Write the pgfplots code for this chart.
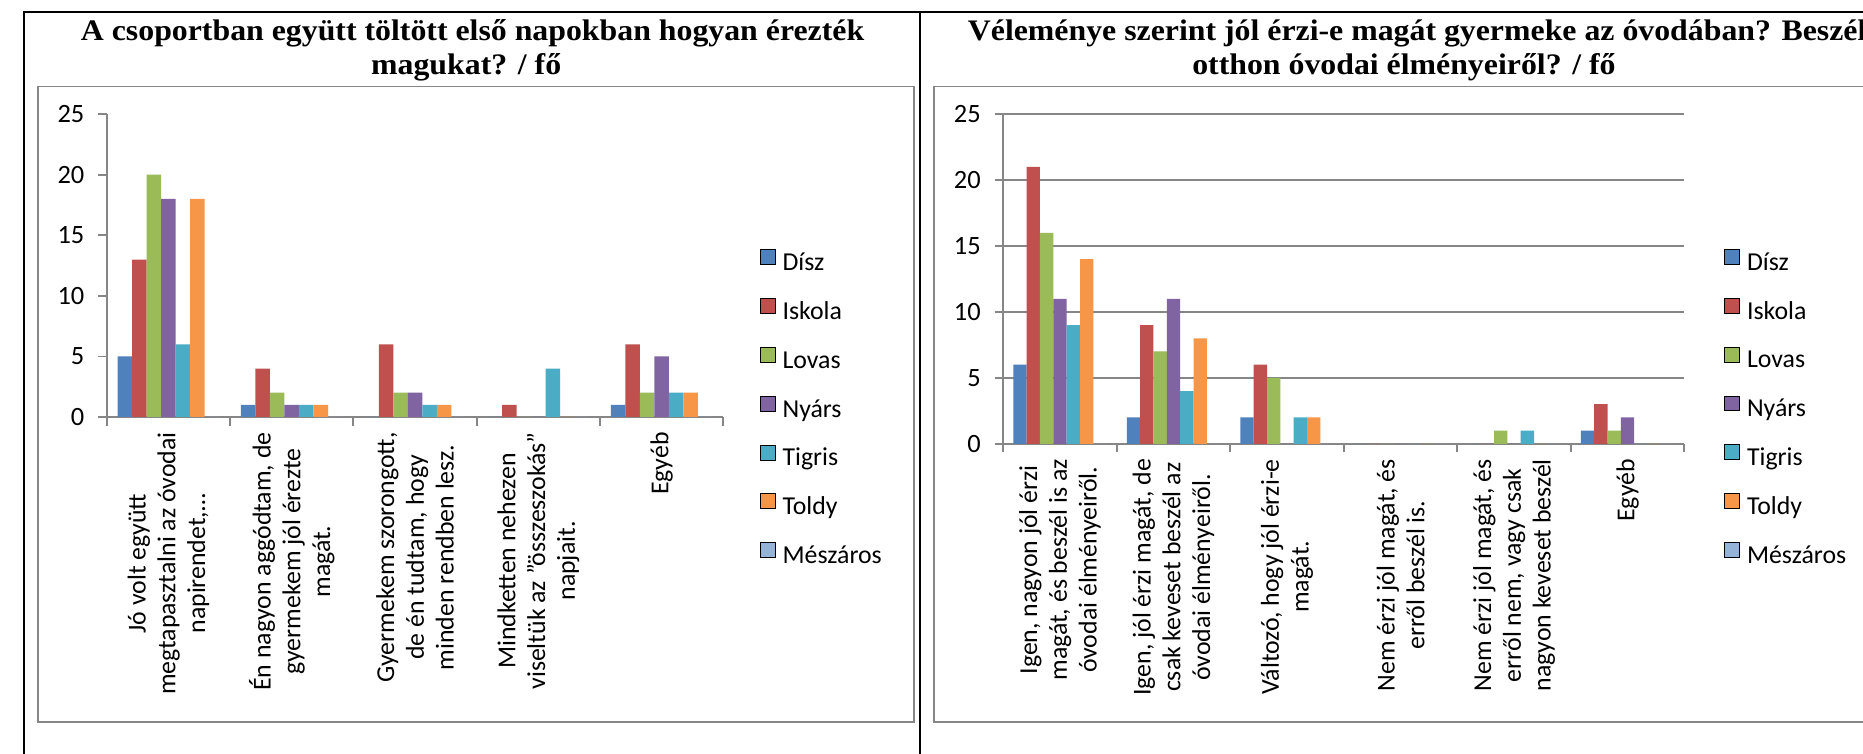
\documentclass[border=0pt]{standalone}
\usepackage{pgfplots}
\usepackage{pgfplotstable}
\pgfplotsset{compat=1.18}
\usepackage{graphicx}
\usepackage{fontspec}
\setmainfont{Carlito}
\newfontfamily\titlefont{Liberation Serif}

\definecolor{cDisz}{HTML}{4F81BD}
\definecolor{cIskola}{HTML}{C0504D}
\definecolor{cLovas}{HTML}{9BBB59}
\definecolor{cNyars}{HTML}{8064A2}
\definecolor{cTigris}{HTML}{4BACC6}
\definecolor{cToldy}{HTML}{F79646}
\definecolor{cMesz}{HTML}{95B3D7}
\definecolor{axgray}{HTML}{868686}

\pgfplotstableread{
x Disz Iskola Lovas Nyars Tigris Toldy Meszaros
1 5 13 20 18 6 18 0
2 1 4 2 1 1 1 0
3 0 6 2 2 1 1 0
4 0 1 0 0 4 0 0
5 1 6 2 5 2 2 0
}\leftdata

\pgfplotstableread{
x Disz Iskola Lovas Nyars Tigris Toldy Meszaros
1 6 21 16 11 9 14 0
2 2 9 7 11 4 8 0
3 2 6 5 0 2 2 0
4 0 0 0 0 0 0 0
5 0 0 1 0 1 0 0
6 1 3 1 2 0 0 0
}\rightdata

\pgfplotsset{
  chart/.style={
    ybar, scale only axis, bar width=0.117647,
    ymin=0, ymax=25, ytick={0,5,10,15,20,25},
    axis x line*=bottom, axis y line*=left,
    axis line style={draw=axgray, line width=0.9pt},
    tick style={draw=axgray, line width=0.9pt},
    tick align=outside, major tick length=4.3pt,
    /pgf/number format/assume math mode=true,
    yticklabel style={font=\fontsize{13.3}{15}\selectfont, xshift=-3.5pt},
    xticklabel style={font=\fontsize{13}{15}\selectfont, yshift=-4.2pt, rotate=90, anchor=east, align=center},
    extra x tick style={major tick length=0pt},
    legend image code/.code={\draw[#1] (0pt,0pt) rectangle (7.5pt,7.5pt);},
    legend style={draw=none, fill=none, inner sep=0pt, anchor=west,
      font=\fontsize{13}{15}\selectfont, row sep=10.9pt,
      nodes={inner sep=0pt, text height=9pt, text depth=3pt},
      /tikz/every odd column/.style={column sep=3.5pt}},
    legend cell align=left,
    legend entries={Dísz,Iskola,Lovas,Nyárs,Tigris,Toldy,Mészáros},
    clip=false,
  },
  sA/.style={fill=cDisz, draw=none, bar shift=-0.352941},
  sB/.style={fill=cIskola, draw=none, bar shift=-0.235294},
  sC/.style={fill=cLovas, draw=none, bar shift=-0.117647},
  sD/.style={fill=cNyars, draw=none, bar shift=0},
  sE/.style={fill=cTigris, draw=none, bar shift=0.117647},
  sF/.style={fill=cToldy, draw=none, bar shift=0.235294},
  sG/.style={fill=cMesz, draw=none, bar shift=0.352941},
}

\newsavebox\tA
\newlength\tAw
\newcommand\tfont{\titlefont\bfseries\fontsize{15}{17}\selectfont}

\begin{document}
\sbox\tA{\tfont A csoportban együtt töltött első napokban hogyan érezték}
\setlength\tAw{\wd\tA}
\pgfmathsetmacro\tsx{394.5/\tAw}
\begin{tikzpicture}
\useasboundingbox (0,0) rectangle (931.5pt,-379.5pt);
\clip (0,0) rectangle (931.5pt,-379.5pt);
\begin{scope}[x=0.5pt, y=-0.5pt]
  \fill[white] (0,0) rectangle (1863,759);
  % outer table frame
  \draw[black, line width=1pt] (11,760) -- (11,12) -- (1870,12);
  \draw[black, line width=1pt] (913,12) -- (913,760);
  % inner chart boxes
  \draw[axgray, line width=0.8pt] (25,87) rectangle (907,727);
  \draw[axgray, line width=0.8pt] (1880,727) -- (927,727) -- (927,87) -- (1880,87);
  % titles
  \node[anchor=base, inner sep=0pt] at (462.5,41) {\scalebox{\tsx}[1]{\usebox\tA}};
  \node[anchor=base, inner sep=0pt] at (456,75) {\scalebox{\tsx}[1]{\tfont magukat? / fő}};
  \node[anchor=base west, inner sep=0pt] at (961,41) {\scalebox{\tsx}[1]{\tfont Véleménye szerint jól érzi-e magát gyermeke az óvodában? Beszél-e}};
  \node[anchor=base west, inner sep=0pt] at (1187,75) {\scalebox{\tsx}[1]{\tfont otthon óvodai élményeiről? / fő}};
\end{scope}

% left chart
\begin{axis}[chart,
  at={(47pt,-210pt)}, anchor=south west,
  width=310.5pt, height=152.5pt,
  xmin=0.5, xmax=5.5,
  xtick={0.5,1.5,2.5,3.5,4.5,5.5},
  xticklabels={,,,,,,},
  extra x ticks={1,2,3,4,5},
  extra x tick labels={{Jó volt együtt\\megtapasztalni az óvodai\\napirendet,\ldots},{Én nagyon aggódtam, de\\gyermekem jól érezte\\magát.},{Gyermekem szorongott,\\de én tudtam, hogy\\minden rendben lesz.},{Mindketten nehezen\\viseltük az "összeszokás"\\napjait.},{Egyéb}},
  legend style={at={(axis description cs:1.0588,0.025)}},
]
\addplot[sA] table[x=x,y=Disz]{\leftdata};
\addplot[sB] table[x=x,y=Iskola]{\leftdata};
\addplot[sC] table[x=x,y=Lovas]{\leftdata};
\addplot[sD] table[x=x,y=Nyars]{\leftdata};
\addplot[sE] table[x=x,y=Tigris]{\leftdata};
\addplot[sF] table[x=x,y=Toldy]{\leftdata};
\addplot[sG] table[x=x,y=Meszaros]{\leftdata};
\end{axis}

% right chart
\begin{axis}[chart,
  at={(498.5pt,-223.5pt)}, anchor=south west,
  width=343pt, height=166pt,
  xmin=0.5, xmax=6.5,
  ymajorgrids, major grid style={draw=axgray, line width=0.8pt},
  xtick={0.5,1.5,2.5,3.5,4.5,5.5,6.5},
  xticklabels={,,,,,,,},
  extra x ticks={1,2,3,4,5,6},
  extra x tick labels={{Igen, nagyon jól érzi\\magát, és beszél is az\\óvodai élményeiről.},{Igen, jól érzi magát, de\\csak keveset beszél az\\óvodai élményeiről.},{Változó, hogy jól érzi-e\\magát.},{Nem érzi jól magát, és\\erről beszél is.},{Nem érzi jól magát, és\\erről nem, vagy csak\\nagyon keveset beszél},{Egyéb}},
  legend style={at={(axis description cs:1.0583,0.105)}},
]
\addplot[sA] table[x=x,y=Disz]{\rightdata};
\addplot[sB] table[x=x,y=Iskola]{\rightdata};
\addplot[sC] table[x=x,y=Lovas]{\rightdata};
\addplot[sD] table[x=x,y=Nyars]{\rightdata};
\addplot[sE] table[x=x,y=Tigris]{\rightdata};
\addplot[sF] table[x=x,y=Toldy]{\rightdata};
\addplot[sG] table[x=x,y=Meszaros]{\rightdata};
\end{axis}
\end{tikzpicture}
\end{document}
